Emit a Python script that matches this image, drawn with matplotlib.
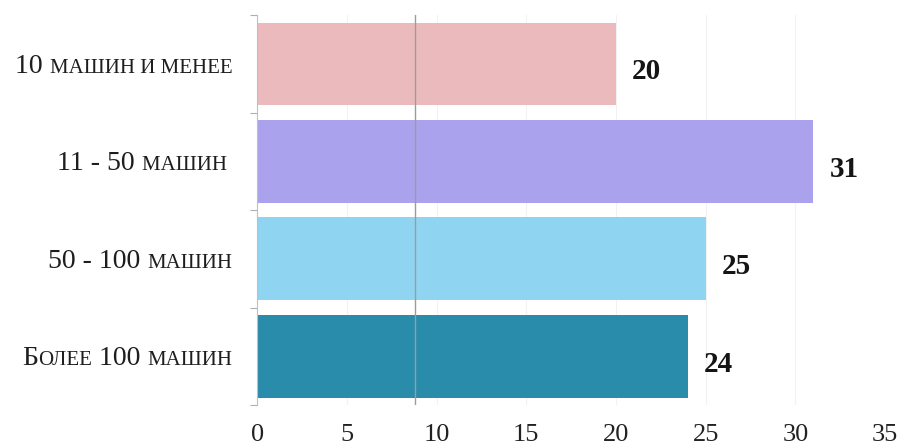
import matplotlib.pyplot as plt
from matplotlib import transforms

# Fleet size groups; each label is split into full-size and small-caps pieces
label_parts = [
    [("10 ", False), ("МАШИН И МЕНЕЕ", True)],
    [("11 - 50 ", False), ("МАШИН ", True)],
    [("50 - 100 ", False), ("МАШИН", True)],
    [("Б", False), ("ОЛЕЕ", True), (" 100 ", False), ("МАШИН", True)],
]
values = [20, 31, 25, 24]
colors = ["#ebbabd", "#aaa2ed", "#8fd4f0", "#2a8cab"]
xticks = [0, 5, 10, 15, 20, 25, 30, 35]
ref_line = 8.8

plt.rcParams['font.family'] = ['Liberation Serif', 'DejaVu Serif']

fig = plt.figure(figsize=(9.09, 4.47), dpi=100)
ax = fig.add_axes([0.283, 0.094, 0.6906, 0.872])

y = list(range(len(values)))
ax.barh(y, values, height=0.85, color=colors, zorder=2)
ax.axvline(ref_line, color="#9c9c9c", lw=1.0, zorder=3)

for yi, v in zip(y, values):
    ax.text(v + 0.9, yi + 0.08, str(v), va="center", ha="left",
            fontsize=21, fontweight="bold", color="#151515")

ax.set_xlim(0, 35)
ax.set_ylim(3.5, -0.5)
ax.set_xticks(xticks)
ax.set_xticklabels([str(t) for t in xticks], fontsize=19, color="#222222")
ax.tick_params(axis="x", length=0, pad=14)
ax.grid(axis="x", color="#f2f2f2", lw=0.8, zorder=0)

ax.set_yticks(y)
ax.set_yticklabels([])
ax.tick_params(axis="y", which="major", length=0)
ax.set_yticks([-0.5, 0.5, 1.5, 2.5, 3.5], minor=True)
ax.tick_params(axis="y", which="minor", length=5, width=0.8, color="#b0b0b0")

for side in ["top", "right", "bottom"]:
    ax.spines[side].set_visible(False)
ax.spines["left"].set_color("#c0c0c0")
ax.spines["left"].set_linewidth(0.8)

# category labels in small caps, laid out right to left from the axis
trans = transforms.blended_transform_factory(ax.transAxes, ax.transData)
fig.canvas.draw()
renderer = fig.canvas.get_renderer()
for yi, parts in zip(y, label_parts):
    x_off = -25
    for text, small in reversed(parts):
        tr = transforms.offset_copy(trans, fig, x=x_off, y=-9, units="dots")
        t = ax.text(0, yi, text, transform=tr, ha="right", va="baseline",
                    fontsize=15 if small else 20, color="#1e1e1e")
        x_off -= t.get_window_extent(renderer).width

fig.savefig("out.png", dpi=100)
